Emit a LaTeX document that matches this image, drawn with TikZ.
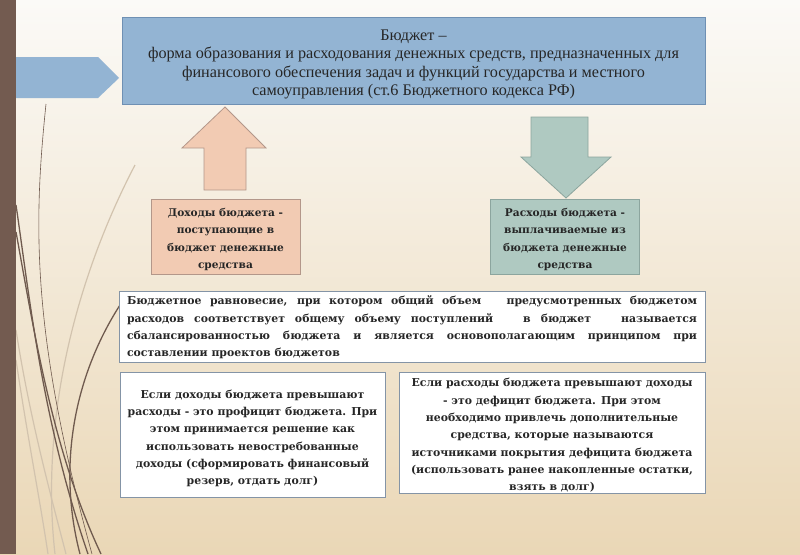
\documentclass[tikz,border=0pt]{standalone}
\usepackage{fontspec}
\setmainfont{Liberation Serif}
\newfontfamily\boxfont{DejaVu Serif}
\usetikzlibrary{positioning}
\definecolor{bgtop}{HTML}{FBFAF7}
\definecolor{bgbot}{HTML}{EAD7B6}
\definecolor{barbrown}{HTML}{735B50}
\definecolor{curvebrown}{HTML}{6F5A4E}
\definecolor{curvelight}{HTML}{D2C3AE}
\definecolor{bluefill}{HTML}{93B4D3}
\definecolor{blueline}{HTML}{6F90B3}
\definecolor{peach}{HTML}{F2CBB3}
\definecolor{peachline}{HTML}{B3978A}
\definecolor{sage}{HTML}{AFC9C1}
\definecolor{sageline}{HTML}{8CA59E}
\definecolor{boxline}{HTML}{8494A6}
\tikzset{
  topbox/.style={draw=blueline, fill=bluefill, line width=0.8pt, minimum width=583pt, minimum height=87pt, inner sep=0pt},
  toptext/.style={align=center, font=\fontsize{16.2}{18.5}\selectfont, text=black!85},
  smallbox/.style={line width=0.8pt, minimum width=149pt, minimum height=75pt, inner sep=0pt},
  smalltext/.style={align=center, font=\boxfont\bfseries\fontsize{10.6}{17.5}\selectfont, text=black!85},
  whitebox/.style={draw=boxline, fill=white, line width=0.8pt, inner sep=0pt},
  bodytext/.style={font=\boxfont\bfseries\fontsize{10.9}{17.3}\selectfont, text=black!85},
  deco/.style={draw=curvebrown, line width=1.3pt},
  decothin/.style={draw=curvebrown, line width=0.6pt},
  decolight/.style={draw=curvelight, line width=1.2pt},
  blockarrow/.style={line width=0.8pt}
}
\begin{document}
\begin{tikzpicture}[x=1pt,y=-1pt]
\useasboundingbox (0,0) rectangle (800,554);
% background
\shade[top color=bgtop, bottom color=bgbot] (0,0) rectangle (800,554);
% decorative curves
\draw[decolight] (135,165) .. controls (75,280) and (40,420) .. (55,554);
\draw[decolight] (16,330) .. controls (30,420) and (52,500) .. (66,554);
\draw[decolight] (16,360) .. controls (28,440) and (40,500) .. (48,554);
\draw[decothin] (46,104) .. controls (34,220) and (30,330) .. (92,554);
\draw[deco] (16,205) .. controls (30,300) and (42,420) .. (88,554);
\draw[deco] (16,232) .. controls (34,330) and (52,450) .. (101,554);
\draw[deco] (120,305) .. controls (72,380) and (58,470) .. (80,554);
% left bar
\fill[barbrown] (0,0) rectangle (16,554);
% blue pentagon arrow
\fill[bluefill] (16,57) -- (98,57) -- (119,78) -- (98,98) -- (16,98) -- cycle;
% top box
\node[topbox] (budget) at (413.5,60.5) {};
\node[toptext] (budgettext) at ([yshift=-4pt]budget.center) {Бюджет –\\форма образования и расходования денежных средств, предназначенных для\\финансового обеспечения задач и функций государства и местного\\самоуправления (ст.6 Бюджетного кодекса РФ)};
% up arrow (peach)
\draw[blockarrow, fill=peach, draw=peachline] (204,190) -- (204,148) -- (182,148) -- (225,107) -- (266,148) -- (246,148) -- (246,190) -- cycle;
% down arrow (sage)
\draw[blockarrow, fill=sage, draw=sageline] (531,117) -- (588,117) -- (588,157) -- (611,157) -- (566,198) -- (521,157) -- (531,157) -- cycle;
% income / expense boxes
\node[smallbox, draw=peachline, fill=peach] (income) at (225.5,236.5) {};
\node[smalltext] (incometext) at ([yshift=-3pt]income.center) {Доходы бюджета -\\поступающие в\\бюджет денежные\\средства};
\node[smallbox, draw=sageline, fill=sage] (expense) at (565,236.5) {};
\node[smalltext] (expensetext) at ([yshift=-3pt]expense.center) {Расходы бюджета -\\выплачиваемые из\\бюджета денежные\\средства};
% equilibrium box
\node[whitebox, minimum width=586pt, minimum height=71pt] (balance) at (412,326.5) {};
\node[bodytext, text width=570pt, align=justify] (balancetext) at ([yshift=-1pt]balance.center) {Бюджетное равновесие, при котором общий объем \ \ предусмотренных бюджетом\linebreak расходов соответствует общему объему поступлений \ \ в бюджет \ \ называется\linebreak сбалансированностью бюджета и является основополагающим принципом при\linebreak составлении проектов бюджетов};
% surplus / deficit boxes
\node[whitebox, minimum width=265pt, minimum height=125pt] (surplus) at (252.5,434.5) {};
\node[bodytext, align=center] (surplustext) at ([yshift=-4pt]surplus.center) {Если доходы бюджета превышают\\расходы - это профицит бюджета. При\\этом принимается решение как\\использовать невостребованные\\доходы (сформировать финансовый\\резерв, отдать долг)};
\node[whitebox, minimum width=306pt, minimum height=121pt] (deficit) at (552,432.5) {};
\node[bodytext, align=center] (deficittext) at ([yshift=-3pt]deficit.center) {Если расходы бюджета превышают доходы\\- это дефицит бюджета. При этом\\необходимо привлечь дополнительные\\средства, которые называются\\источниками покрытия дефицита бюджета\\(использовать ранее накопленные остатки,\\взять в долг)};
\end{tikzpicture}
\end{document}
